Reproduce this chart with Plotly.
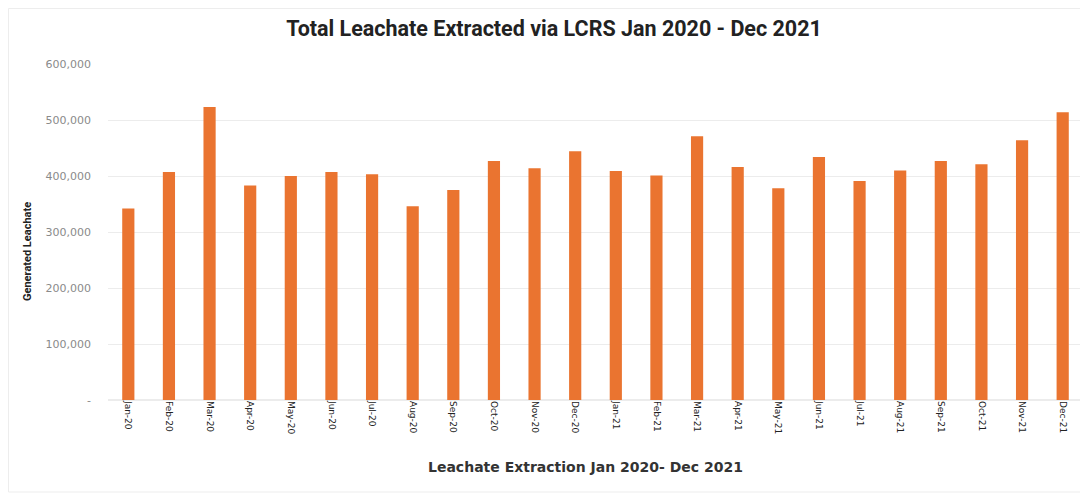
import plotly.graph_objects as go

months = ["Jan-20", "Feb-20", "Mar-20", "Apr-20", "May-20", "Jun-20", "Jul-20", "Aug-20",
          "Sep-20", "Oct-20", "Nov-20", "Dec-20", "Jan-21", "Feb-21", "Mar-21", "Apr-21",
          "May-21", "Jun-21", "Jul-21", "Aug-21", "Sep-21", "Oct-21", "Nov-21", "Dec-21"]
leachate = [342000, 407000, 523000, 383000, 400000, 407000, 403000, 346000,
            375000, 427000, 414000, 444000, 409000, 401000, 471000, 416000,
            378000, 434000, 391000, 410000, 427000, 421000, 464000, 514000]
y_tickvals = [0, 100000, 200000, 300000, 400000, 500000, 600000]
y_ticktext = ["-", "100,000", "200,000", "300,000", "400,000", "500,000", "600,000"]

W, H = 1088, 493
ml, mr, mt, mb = 100, 13, 56, 101

fig = go.Figure(go.Bar(x=months, y=leachate, marker_color="#EA7430",
                       marker_line_width=0, width=0.3))

pw = W - ml - mr
ph = H - mt - mb
def px_x(p):
    return (p - ml) / pw
def px_y(p):
    return (H - mb - p) / ph

fig.update_layout(
    width=W, height=H,
    margin=dict(l=ml, r=mr, t=mt, b=mb, autoexpand=False),
    paper_bgcolor="white", plot_bgcolor="white",
    title=dict(text="<b>Total Leachate Extracted via LCRS Jan 2020 - Dec 2021</b>",
               x=px_x(546), xanchor="center", xref="paper", y=1 - 20 / H, yanchor="middle",
               font=dict(family="Roboto", size=21.5, color="#222222")),
    showlegend=False,
    bargap=0.7,
    shapes=[dict(type="rect", xref="paper", yref="paper",
                 x0=px_x(0.5), x1=px_x(1087), y0=px_y(484), y1=px_y(0.5),
                 line=dict(color="#ededed", width=1), fillcolor="rgba(0,0,0,0)", layer="below")],
    annotations=[
        dict(text="<b>Generated Leachate</b>", textangle=-90,
             xref="paper", yref="paper", x=px_x(19), y=px_y(244),
             xanchor="center", yanchor="middle", showarrow=False,
             font=dict(family="Roboto", size=11, color="#222222")),
        dict(text="<b>Leachate Extraction Jan 2020- Dec 2021</b>",
             xref="paper", yref="paper", x=px_x(577), y=px_y(459),
             xanchor="center", yanchor="middle", showarrow=False,
             font=dict(family="DejaVu Sans", size=14, color="#333333")),
    ],
)
fig.update_xaxes(
    tickangle=90, tickfont=dict(family="DejaVu Sans", size=9, color="#222222"),
    showgrid=False, showline=False, ticks="", automargin=False,
)
fig.update_yaxes(
    range=[0, 600000], tickvals=y_tickvals, ticktext=y_ticktext, automargin=False,
    tickfont=dict(family="DejaVu Sans", size=11, color="#8a8a8a"),
    showgrid=True, gridcolor="#ececec", gridwidth=1, zeroline=True, zerolinecolor="#ececec",
    ticks="", ticklabelstandoff=16,
)

fig.write_html("out.html")
